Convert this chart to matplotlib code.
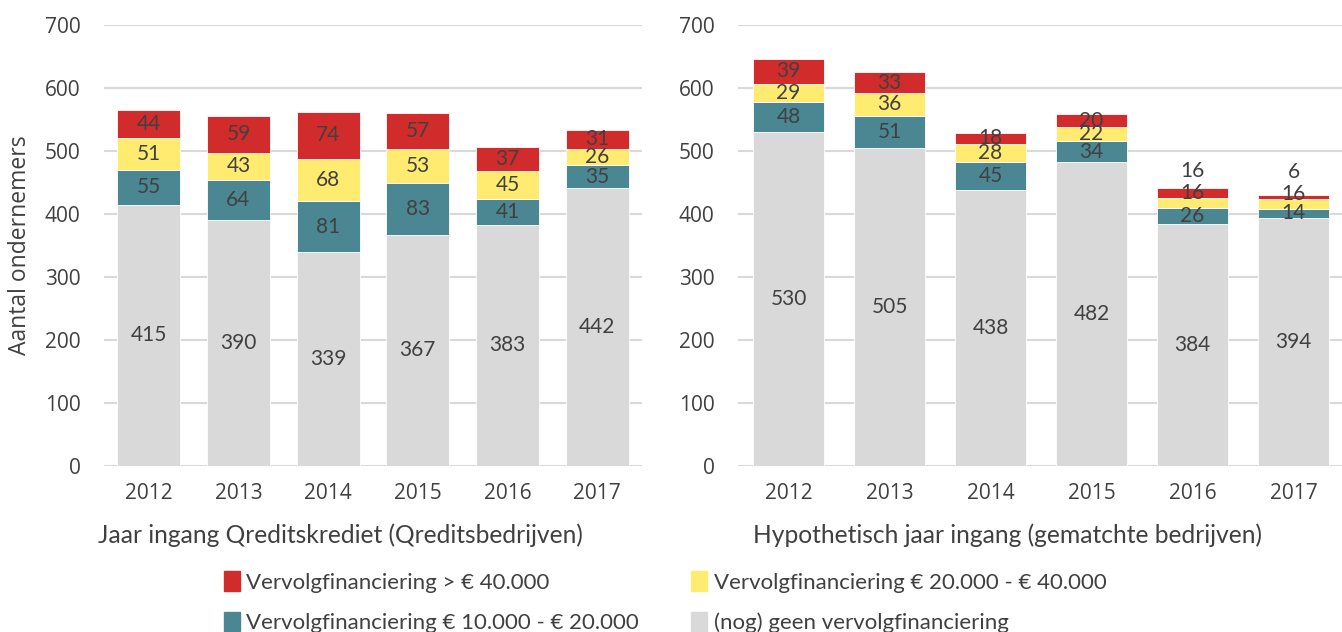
import matplotlib.pyplot as plt
from matplotlib.patches import Patch

plt.rcParams['font.family'] = ['Open Sans', 'DejaVu Sans']
lato = ['Lato', 'DejaVu Sans']

jaren = ['2012', '2013', '2014', '2015', '2016', '2017']

# Qreditsbedrijven
q_geen = [415, 390, 339, 367, 383, 442]
q_10_20 = [55, 64, 81, 83, 41, 35]
q_20_40 = [51, 43, 68, 53, 45, 26]
q_40 = [44, 59, 74, 57, 37, 31]

# gematchte bedrijven
m_geen = [530, 505, 438, 482, 384, 394]
m_10_20 = [48, 51, 45, 34, 26, 14]
m_20_40 = [29, 36, 28, 22, 16, 16]
m_40 = [39, 33, 18, 20, 16, 6]

namen = ['(nog) geen vervolgfinanciering',
         'Vervolgfinanciering € 10.000 - € 20.000',
         'Vervolgfinanciering € 20.000 - € 40.000',
         'Vervolgfinanciering > € 40.000']
kleuren = ['#D9D9D9', '#4A8793', '#FFEB70', '#D22B2B']
tekst = '#404040'

fig = plt.figure(figsize=(13.42, 6.32), dpi=100)
ax1 = fig.add_axes([104 / 1342, 166 / 632, 538 / 1342, 441 / 632])
ax2 = fig.add_axes([738 / 1342, 166 / 632, 606 / 1342, 441 / 632])


def teken(ax, reeksen, xlabel, xpos, verschuif=None):
    x = range(len(jaren))
    onder = [0] * len(jaren)
    for k, (waarden, kleur) in enumerate(zip(reeksen, kleuren)):
        ax.bar(x, waarden, 0.7, bottom=onder, color=kleur, edgecolor='white',
               linewidth=0.6, zorder=3)
        for i, v in enumerate(waarden):
            y = onder[i] + v / 2
            if verschuif is not None:
                y += verschuif[k][i]
            ax.text(i, y, str(v), ha='center', va='center', fontsize=15,
                    color=tekst, zorder=4, family=lato)
        onder = [o + v for o, v in zip(onder, waarden)]
    ax.set_ylim(0, 700)
    ax.set_xlim(-0.5, 5.5)
    ax.set_yticks(range(0, 701, 100))
    ax.set_xticks(list(x))
    ax.set_xticklabels(jaren)
    ax.grid(axis='y', color='#D9D9D9', linewidth=1.5, zorder=0)
    for s in ax.spines.values():
        s.set_visible(False)
    ax.tick_params(length=0, labelsize=15, colors=tekst)
    ax.tick_params(axis='x', pad=12)
    ax.tick_params(axis='y', pad=17)
    ax.set_xlabel(xlabel, fontsize=17.7, color=tekst, family=lato)
    ax.xaxis.set_label_coords(xpos, -0.13)


teken(ax1, [q_geen, q_10_20, q_20_40, q_40],
      'Jaar ingang Qreditskrediet (Qreditsbedrijven)', 0.439)
# labels die in het origineel handmatig zijn verplaatst
schuif = [[0] * 6, [0] * 6, [0, 0, 0, 0, 16, 16], [0, 0, 0, 0, 35, 40]]
teken(ax2, [m_geen, m_10_20, m_20_40, m_40],
      'Hypothetisch jaar ingang (gematchte bedrijven)', 0.444, schuif)
ax1.set_ylabel('Aantal ondernemers', fontsize=16.5, color=tekst)
ax1.yaxis.set_label_coords(-0.134, 0.5)

handles = [Patch(color=kleuren[3]), Patch(color=kleuren[1]),
           Patch(color=kleuren[2]), Patch(color=kleuren[0])]
labels = [namen[3], namen[1], namen[2], namen[0]]
fig.legend(handles, labels, ncol=2, loc='upper left',
           bbox_to_anchor=(213 / 1342, 1 - 560 / 632),
           frameon=False, handlelength=0.7, handleheight=1.0,
           handletextpad=0.3, columnspacing=2.35, labelspacing=0.85,
           borderpad=0, labelcolor=tekst,
           prop={'family': lato, 'size': 16})

fig.savefig('out.png', dpi=100)
